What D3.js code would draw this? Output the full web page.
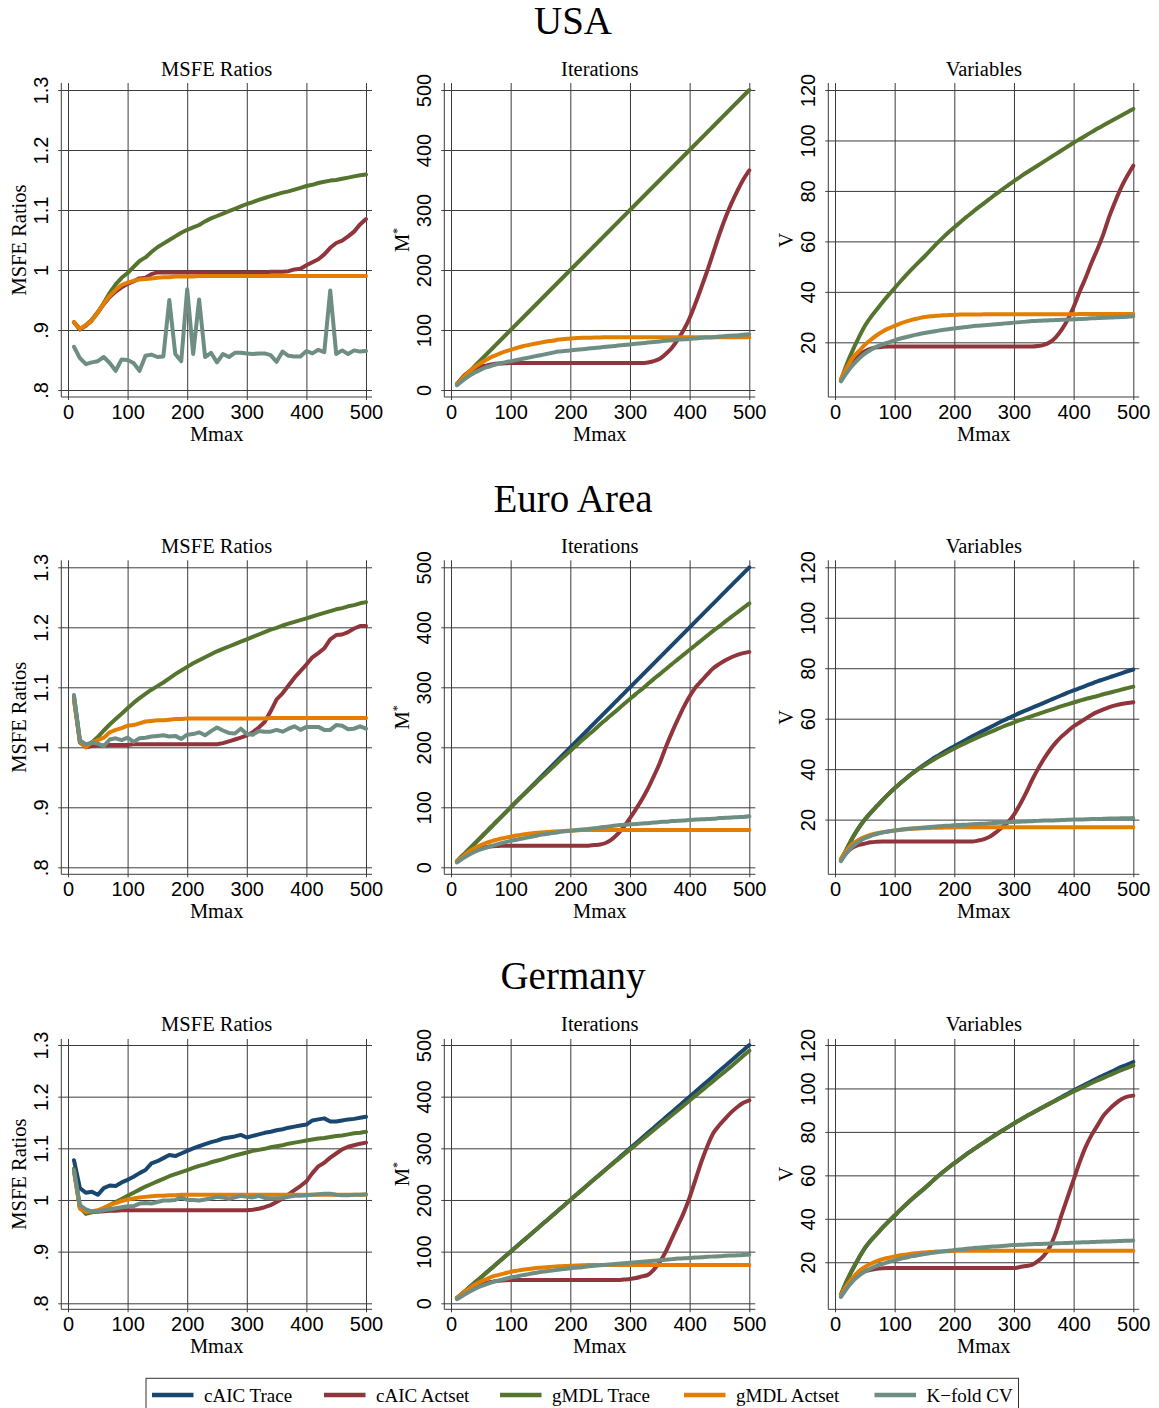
<!DOCTYPE html>
<html><head><meta charset="utf-8">
<script src="https://cdn.jsdelivr.net/npm/d3@7"></script>
<style>body{margin:0;background:#fff}</style>
</head><body><svg id="chart" width="1159" height="1408"></svg>
<script>
// ---------- categories / labels ----------
const mmax = [10,20,30,40,50,60,70,80,90,100,
  110,120,130,140,150,160,170,180,190,200,
  210,220,230,240,250,260,270,280,290,300,
  310,320,330,340,350,360,370,380,390,400,
  410,420,430,440,450,460,470,480,490,500];
const seriesNames = ["cAIC Trace","cAIC Actset","gMDL Trace","gMDL Actset","K\u2212fold CV"];
const countryTitles = ["USA","Euro Area","Germany"];
const panelTitles = ["MSFE Ratios","Iterations","Variables"];
const xTicks = [0,100,200,300,400,500];
const msfeTicks = [0.8,0.9,1,1.1,1.2,1.3];
const msfeTickLabels = [".8",".9","1","1.1","1.2","1.3"];
const iterTicks = [0,100,200,300,400,500];
const varTicks = [20,40,60,80,100,120];

// ---------- USA ----------
const usaMsfeCaicActset = [0.913,0.901,0.907,0.916,0.929,0.943,0.955,0.964,0.971,0.977,
  0.981,0.986,0.987,0.993,0.996,0.996,0.996,0.996,0.996,0.996,
  0.996,0.996,0.996,0.996,0.996,0.996,0.996,0.996,0.996,0.996,
  0.996,0.996,0.996,0.997,0.997,0.997,0.998,1.001,1.002,1.008,
  1.013,1.018,1.026,1.037,1.045,1.049,1.056,1.064,1.076,1.085];
const usaMsfeGmdlTrace = [0.913,0.901,0.908,0.917,0.930,0.945,0.962,0.976,0.987,0.995,
  1.005,1.015,1.021,1.030,1.038,1.044,1.050,1.056,1.062,1.067,
  1.071,1.075,1.081,1.086,1.090,1.094,1.098,1.102,1.106,1.110,
  1.113,1.117,1.120,1.123,1.126,1.129,1.131,1.134,1.137,1.140,
  1.142,1.145,1.147,1.149,1.150,1.152,1.154,1.156,1.158,1.159];
const usaMsfeGmdlActset = [0.913,0.902,0.908,0.916,0.929,0.944,0.957,0.967,0.975,0.979,
  0.982,0.984,0.985,0.986,0.987,0.988,0.988,0.989,0.989,0.989,
  0.989,0.990,0.990,0.990,0.990,0.990,0.990,0.990,0.990,0.990,
  0.990,0.990,0.990,0.990,0.990,0.990,0.990,0.990,0.990,0.990,
  0.990,0.990,0.990,0.990,0.990,0.990,0.990,0.990,0.990,0.990];
const usaMsfeKfold = [0.872,0.853,0.843,0.846,0.848,0.855,0.845,0.832,0.851,0.850,
  0.845,0.832,0.857,0.859,0.855,0.856,0.950,0.860,0.848,0.968,
  0.860,0.951,0.855,0.862,0.846,0.860,0.855,0.862,0.862,0.861,
  0.860,0.861,0.861,0.858,0.847,0.864,0.857,0.856,0.856,0.865,
  0.861,0.867,0.863,0.966,0.860,0.866,0.860,0.866,0.864,0.865];

const usaIterCaicActset = [10,22,30,35,39,41,43,44,44.5,45,
  45,45,45,45,45,45,45,45,45,45,
  45,45,45,45,45,45,45,45,45,45,
  45,45,46,48,52,60,70,84,100,120,
  145,172,200,230,260,287,311,332,351,366];
const usaIterGmdlTrace = [10,20,30,40,50,60,70,80,90,100,
  110,120,130,140,150,160,170,180,190,200,
  210,220,230,240,250,260,270,280,290,300,
  310,320,330,340,350,360,370,380,390,400,
  410,420,430,440,450,460,470,480,490,500];
const usaIterGmdlActset = [10,20,30,38,45,51,56,60,64,67,
  70,73,75,77,79,81,82,84,85,86,
  86.5,87,87,87.5,87.5,88,88,88,88,88,
  88,88,88,88,88,88,88,88,88,88,
  88,88,88,88,88,88,88,88,88,88];
const usaIterKfold = [8,16,23,29,34,38,41,44,46,48,
  50,52,54,56,58,60,62,64,65,66,
  67,68,69,70,71,72,73,74,75,76,
  77,78,79,80,81,82,83,84,84.5,85,
  86,87,87.5,88,89,90,90.5,91,92,93];

const usaVarCaicActset = [5,9,12.5,15,16.5,17.5,18,18.2,18.3,18.3,
  18.3,18.3,18.3,18.3,18.3,18.3,18.3,18.3,18.3,18.3,
  18.3,18.3,18.3,18.3,18.3,18.3,18.3,18.3,18.3,18.3,
  18.3,18.3,18.3,18.5,19,20,22,25,29,34,
  40,45.5,51.5,57,63,70,76,81.5,86,90];
const usaVarGmdlTrace = [5,11.5,17,22,26.5,30,33,36,38.8,41.5,
  44.2,46.8,49.3,51.7,54,56.5,59,61.3,63.5,65.6,
  67.6,69.6,71.5,73.4,75.2,77,78.8,80.5,82.2,83.9,
  85.5,87.1,88.6,90.1,91.6,93.1,94.6,96.1,97.6,99.1,
  100.5,101.9,103.3,104.7,106,107.3,108.6,109.9,111.2,112.5];
const usaVarGmdlActset = [5.5,10,14,16.5,19,21,22.8,24.3,25.5,26.5,
  27.5,28.3,29,29.5,30,30.3,30.5,30.7,30.8,30.9,
  31,31,31,31,31.1,31.1,31.1,31.1,31.1,31.1,
  31.1,31.1,31.1,31.1,31.1,31.1,31.1,31.1,31.1,31.1,
  31.2,31.2,31.2,31.2,31.2,31.2,31.2,31.2,31.2,31.2];
const usaVarKfold = [4.5,8,11,13.5,15.5,17,18.3,19.2,20,20.8,
  21.5,22.1,22.7,23.2,23.7,24.1,24.5,24.9,25.2,25.5,
  25.8,26.1,26.4,26.6,26.8,27,27.2,27.4,27.6,27.8,
  28,28.2,28.4,28.5,28.6,28.7,28.8,28.9,29,29.1,
  29.2,29.3,29.5,29.6,29.7,29.8,29.9,30,30.1,30.3];

// ---------- Euro Area ----------
const euMsfeCaicActset = [1.080,1.008,1.000,1.002,1.003,1.003,1.004,1.004,1.004,1.004,
  1.005,1.005,1.005,1.005,1.005,1.005,1.005,1.005,1.005,1.005,
  1.005,1.005,1.005,1.005,1.005,1.007,1.010,1.013,1.016,1.020,
  1.025,1.033,1.042,1.060,1.080,1.090,1.103,1.116,1.127,1.138,
  1.150,1.157,1.165,1.180,1.187,1.188,1.192,1.198,1.202,1.202];
const euMsfeGmdlTrace = [1.085,1.010,1.002,1.008,1.017,1.028,1.038,1.047,1.056,1.065,
  1.074,1.082,1.089,1.096,1.102,1.108,1.115,1.122,1.128,1.134,
  1.140,1.145,1.150,1.155,1.160,1.164,1.168,1.172,1.176,1.180,
  1.184,1.188,1.192,1.196,1.199,1.203,1.206,1.209,1.212,1.215,
  1.218,1.221,1.224,1.227,1.230,1.232,1.235,1.237,1.240,1.242];
const euMsfeGmdlActset = [1.080,1.010,1.000,1.008,1.012,1.016,1.025,1.029,1.032,1.036,
  1.037,1.040,1.043,1.044,1.045,1.045,1.046,1.047,1.047,1.048,
  1.048,1.048,1.048,1.048,1.048,1.048,1.048,1.048,1.048,1.048,
  1.048,1.048,1.048,1.049,1.049,1.049,1.049,1.049,1.049,1.049,
  1.049,1.049,1.049,1.049,1.049,1.049,1.049,1.049,1.049,1.049];
const euMsfeKfold = [1.087,1.012,1.005,1.008,1.006,1.002,1.013,1.015,1.012,1.016,
  1.009,1.015,1.016,1.018,1.019,1.020,1.018,1.019,1.014,1.021,
  1.022,1.025,1.020,1.027,1.033,1.028,1.024,1.023,1.031,1.022,
  1.021,1.027,1.026,1.026,1.029,1.026,1.031,1.035,1.029,1.034,
  1.034,1.034,1.029,1.029,1.037,1.036,1.030,1.031,1.035,1.031];

const euIterCaicTrace = [10,20,30,40,50,60,70,80,90,100,
  110,120,130,140,150,160,170,180,190,200,
  210,220,230,240,250,260,270,280,290,300,
  310,320,330,340,350,360,370,380,390,400,
  410,420,430,440,450,460,470,480,490,500];
const euIterCaicActset = [10,20,26,30,32,34,35,35.5,36,36,
  36,36,36,36,36,36,36,36,36,36,
  36,36,36,37,38,41,47,56,68,82,
  97,113,131,152,174,200,224,246,267,285,
  300,311,322,332,339,345,350,354,357,359];
const euIterGmdlTrace = [10,20,30,40,50,60,70,80,90,100,
  110,119.5,129,138.5,148,157,166.5,176,185,194,
  203,212,220.5,229,238,246.5,255,263.5,272,280.5,
  289,297,305.5,314,322,330,338.5,346.5,354.5,362.5,
  370.5,378.5,386.5,394.5,402,410,417.5,425,432.5,440];
const euIterGmdlActset = [10,18,26,32,37,41,44,47,49,51,
  53,54.5,56,57,58,59,59.5,60,60.5,61,
  61.5,62,62,62,62,62,62,62,62,62,
  62,62,62,62,62,62,62,62,62,62,
  62,62,62,62,62,62,62,62,62,62];
const euIterKfold = [8,15,21,26,30,33,36,39,41.5,44,
  46,48,50,52,54,55.5,57,58.5,60,61,
  62,63,64,65,66.5,67.5,69,70,71,71.5,
  72,73,73.5,74.5,75.5,76,77,77.5,78,79,
  79.5,80,80.5,81,82,82.5,83,83.5,84,85];

const euVarCaicTrace = [4,8.5,13,16.8,20,22.8,25.3,27.8,30.2,32.4,
  34.5,36.5,38.4,40.2,41.9,43.5,45,46.4,47.8,49.1,
  50.4,51.7,53,54.2,55.4,56.6,57.8,59,60.1,61.2,
  62.3,63.3,64.3,65.3,66.3,67.3,68.3,69.3,70.3,71.2,
  72.1,73,73.9,74.8,75.6,76.4,77.2,78,78.8,79.5];
const euVarCaicActset = [4,7,9,10,10.5,11,11.2,11.3,11.3,11.3,
  11.3,11.3,11.3,11.3,11.3,11.3,11.3,11.3,11.3,11.3,
  11.3,11.3,11.3,11.7,12.3,13.3,15,17,19,22,
  26,30.5,35.5,40,44,47.5,50.5,53,55,57,
  58.5,60,61.5,62.7,63.7,64.6,65.3,65.8,66.2,66.5];
const euVarGmdlTrace = [4,8.5,13,16.8,20,22.8,25.3,27.8,30.2,32.4,
  34.5,36.5,38.4,40,41.5,43,44.4,45.7,47,48.2,
  49.4,50.5,51.6,52.7,53.7,54.7,55.7,56.7,57.6,58.5,
  59.4,60.2,61,61.8,62.6,63.4,64.2,65,65.7,66.4,
  67.1,67.8,68.4,69,69.7,70.3,70.9,71.5,72.1,72.7];
const euVarGmdlActset = [4.5,8,10.5,12,13.2,14,14.6,15,15.4,15.7,
  16,16.2,16.4,16.5,16.6,16.7,16.8,16.8,16.9,16.9,
  17,17,17,17,17,17,17,17,17,17,
  17,17,17,17,17,17,17,17,17,17,
  17,17,17,17,17,17,17,17,17,17];
const euVarKfold = [3.5,7,9.5,11.3,12.6,13.6,14.3,14.9,15.3,15.7,
  16,16.3,16.5,16.7,16.9,17.1,17.3,17.5,17.6,17.8,
  17.9,18,18.2,18.3,18.4,18.6,18.7,18.8,19,19.1,
  19.2,19.3,19.4,19.5,19.6,19.6,19.7,19.8,19.9,20,
  20,20.1,20.2,20.2,20.3,20.4,20.4,20.5,20.5,20.6];

// ---------- Germany ----------
const deMsfeCaicTrace = [1.077,1.023,1.014,1.016,1.010,1.023,1.028,1.027,1.034,1.039,
  1.045,1.052,1.058,1.071,1.075,1.081,1.087,1.085,1.090,1.095,
  1.100,1.104,1.108,1.112,1.115,1.119,1.121,1.123,1.126,1.121,
  1.124,1.127,1.130,1.132,1.135,1.137,1.140,1.142,1.144,1.146,
  1.154,1.156,1.158,1.152,1.152,1.154,1.156,1.157,1.159,1.161];
const deMsfeCaicActset = [1.060,0.985,0.978,0.977,0.977,0.978,0.979,0.979,0.980,0.980,
  0.980,0.980,0.980,0.980,0.980,0.980,0.980,0.980,0.980,0.980,
  0.980,0.980,0.980,0.980,0.980,0.980,0.980,0.980,0.980,0.980,
  0.981,0.983,0.986,0.990,0.996,1.003,1.011,1.019,1.027,1.036,
  1.052,1.065,1.072,1.082,1.090,1.098,1.103,1.106,1.109,1.111];
const deMsfeGmdlTrace = [1.060,0.985,0.973,0.976,0.979,0.984,0.990,0.996,1.002,1.008,
  1.014,1.020,1.026,1.031,1.036,1.041,1.046,1.050,1.054,1.058,
  1.062,1.066,1.069,1.073,1.076,1.079,1.083,1.086,1.089,1.092,
  1.095,1.097,1.099,1.102,1.104,1.106,1.109,1.111,1.113,1.115,
  1.117,1.119,1.120,1.122,1.124,1.125,1.127,1.129,1.130,1.132];
const deMsfeGmdlActset = [1.055,0.983,0.977,0.978,0.980,0.985,0.990,0.994,0.998,1.001,
  1.003,1.005,1.006,1.007,1.008,1.008,1.009,1.009,1.010,1.010,
  1.010,1.010,1.010,1.010,1.010,1.010,1.010,1.010,1.010,1.010,
  1.010,1.010,1.010,1.010,1.010,1.010,1.010,1.010,1.010,1.010,
  1.010,1.010,1.010,1.010,1.010,1.010,1.010,1.010,1.010,1.010];
const deMsfeKfold = [1.058,0.990,0.982,0.978,0.978,0.980,0.982,0.984,0.986,0.988,
  0.988,0.993,0.994,0.993,0.996,0.999,0.999,1.000,1.005,1.000,
  1.000,0.999,1.001,1.003,1.006,1.005,1.002,1.005,1.008,1.006,
  1.005,1.008,1.004,1.003,1.003,1.004,1.006,1.008,1.008,1.009,
  1.010,1.011,1.012,1.012,1.010,1.009,1.009,1.010,1.010,1.011];

const deIterCaicTrace = [10,20,30,40,50,60,70,80,90,100,
  110,120,130,140,150,160,170,180,190,200,
  210,220,230,240,250,260,270,280,290,300,
  310,320,330,340,350,360,370,380,390,400,
  410,420,430,440,450,460,470,480,490,500];
const deIterCaicActset = [10,20,27,33,37,40,42,43.5,44.5,45,
  45,45,45,45,45,45,45,45,45,45,
  45,45,45,45,45,45,45,45,46,47,
  49,52,55,65,80,100,125,150,175,205,
  240,275,305,330,345,358,370,380,388,393];
const deIterGmdlTrace = [10,20,30,40,50,60,70,80,90,100,
  110,120,130,140,150,160,170,180,190,200,
  210,220,230,240,250,259.5,269,278.5,288,297.5,
  307,316.5,326,335.5,345,354.5,364,373.5,383,392.5,
  402,411.5,421,430.5,440,449.5,459,469,479,489];
const deIterGmdlActset = [10,20,28,36,42,47,52,55,58,61,
  63,65,66.5,68,69,70,71,71.5,72,72.5,
  73,73.5,74,74,74,74,74,74,74,74,
  74,74,74,74,74,74,74,74,74,74,
  74,74,74,74,74,74,74,74,74,74];
const deIterKfold = [8,15,22,28,33,37,41,44,47,50,
  52,54.5,56.5,58.5,60.5,62,63.5,65,66.5,68,
  69,70,71.5,72.5,73.5,74.5,75.5,76.5,77.5,78.5,
  79.5,80.5,81.5,82.5,83.5,84.5,85.5,86.5,87,87.5,
  88.5,89,90,90.5,91,92,92.5,93,93.5,94];

const deVarCaicTrace = [5,11.5,17,22,26.5,30,33,36,38.8,41.5,
  44.2,46.8,49.3,51.7,54,56.5,59,61.3,63.5,65.6,
  67.6,69.6,71.5,73.4,75.2,77,78.8,80.5,82.2,83.9,
  85.5,87.1,88.6,90.1,91.6,93.1,94.6,96.1,97.6,99.1,
  100.5,101.9,103.3,104.7,106,107.3,108.6,109.9,111,112.2];
const deVarCaicActset = [5,9,12.5,14.5,15.8,16.5,17,17.2,17.3,17.3,
  17.3,17.3,17.3,17.3,17.3,17.3,17.3,17.3,17.3,17.3,
  17.3,17.3,17.3,17.3,17.3,17.3,17.3,17.3,17.3,17.3,
  17.8,18.3,18.8,20.5,23,27,33.5,42,50,58,
  66,73,78.5,83,87.5,90.5,93,95,96.2,96.7];
const deVarGmdlTrace = [5,11.5,17,22,26.5,30,33,36,38.8,41.5,
  44.2,46.8,49.3,51.7,54,56.5,59,61.3,63.5,65.6,
  67.6,69.6,71.5,73.4,75.2,77,78.8,80.5,82.2,83.9,
  85.5,87.1,88.6,90.1,91.6,93,94.4,95.8,97.2,98.6,
  99.9,101.2,102.5,103.7,104.9,106.1,107.3,108.4,109.5,110.6];
const deVarGmdlActset = [5,9.5,13,15.8,17.8,19.3,20.5,21.4,22.1,22.7,
  23.2,23.6,24,24.3,24.5,24.7,24.9,25,25.1,25.2,
  25.3,25.3,25.3,25.3,25.3,25.3,25.3,25.3,25.3,25.3,
  25.3,25.3,25.3,25.3,25.3,25.3,25.3,25.3,25.3,25.3,
  25.3,25.3,25.3,25.3,25.3,25.3,25.3,25.3,25.3,25.3];
const deVarKfold = [4,8,11.3,13.8,15.7,17.1,18.3,19.3,20.1,20.9,
  21.6,22.2,22.8,23.3,23.8,24.2,24.6,25,25.3,25.6,
  25.9,26.2,26.5,26.7,26.9,27.1,27.3,27.5,27.7,27.9,
  28,28.2,28.3,28.4,28.5,28.6,28.7,28.8,28.9,29,
  29.1,29.2,29.3,29.4,29.5,29.6,29.7,29.8,29.9,30];

// ---------- assembly (series order: cAIC Trace, cAIC Actset, gMDL Trace, gMDL Actset, K-fold CV) ----------
const panels = [
  [[null, usaMsfeCaicActset, usaMsfeGmdlTrace, usaMsfeGmdlActset, usaMsfeKfold],
   [null, usaIterCaicActset, usaIterGmdlTrace, usaIterGmdlActset, usaIterKfold],
   [null, usaVarCaicActset, usaVarGmdlTrace, usaVarGmdlActset, usaVarKfold]],
  [[null, euMsfeCaicActset, euMsfeGmdlTrace, euMsfeGmdlActset, euMsfeKfold],
   [euIterCaicTrace, euIterCaicActset, euIterGmdlTrace, euIterGmdlActset, euIterKfold],
   [euVarCaicTrace, euVarCaicActset, euVarGmdlTrace, euVarGmdlActset, euVarKfold]],
  [[deMsfeCaicTrace, deMsfeCaicActset, deMsfeGmdlTrace, deMsfeGmdlActset, deMsfeKfold],
   [deIterCaicTrace, deIterCaicActset, deIterGmdlTrace, deIterGmdlActset, deIterKfold],
   [deVarCaicTrace, deVarCaicActset, deVarGmdlTrace, deVarGmdlActset, deVarKfold]]
];
const colors = ["#1a476f","#90353b","#55752f","#e37e00","#6e8e84"];

// ---------- layout ----------
const svg = d3.select("#chart");
svg.append("rect").attr("width",1159).attr("height",1408).attr("fill","#fff");
const serif = "'Liberation Serif','Times New Roman',serif";
const sans = "'Liberation Sans',Arial,Helvetica,sans-serif";
const gridColor = "#3c3c3c";
const colX0 = [68, 451, 835], colX500 = [366, 749.3, 1133.3];
const rowTop = [90, 567.3, 1045], rowBot = [390, 867.3, 1303.3];
const countryBase = [34.3, 511.6, 989];
const yDomains = [[0.8,1.3],[0,500],[1.1,120]];
const yTickSets = [msfeTicks, iterTicks, varTicks];
const yTickFmt = [(d)=>msfeTickLabels[msfeTicks.indexOf(d)], d=>String(d), d=>String(d)];

for (let ri = 0; ri < 3; ri++) {
  svg.append("text").attr("x", 573).attr("y", countryBase[ri])
    .attr("text-anchor","middle").style("font-family", serif).style("font-size","39px")
    .text(countryTitles[ri]);
  for (let ci = 0; ci < 3; ci++) {
    const x = d3.scaleLinear().domain([0,500]).range([colX0[ci], colX500[ci]]);
    const y = d3.scaleLinear().domain(yDomains[ci]).range([rowBot[ri], rowTop[ri]]);
    const s = (rowBot[ri] - rowTop[ri]) / 300;
    const L = colX0[ci] - 6.7, R = colX500[ci] + 6, T = rowTop[ri] - 7*s, B = rowBot[ri] + 7*s;
    const g = svg.append("g");

    // horizontal grid + y ticks
    const ya = g.append("g").attr("transform", `translate(${R},0)`)
      .call(d3.axisLeft(y).tickValues(yTickSets[ci]).tickSize(R - L + 3).tickFormat(yTickFmt[ci]));
    ya.select(".domain").remove();
    ya.selectAll("line").attr("stroke", gridColor).attr("stroke-width", 1);
    ya.selectAll("text")
      .attr("x", null).attr("dy", null)
      .attr("transform", `translate(${-(R - L + 13)},0) rotate(-90)`)
      .attr("text-anchor","middle").attr("fill","#000")
      .style("font-family", sans).style("font-size","20px");

    // vertical grid + x ticks
    const xa = g.append("g").attr("transform", `translate(0,${T})`)
      .call(d3.axisBottom(x).tickValues(xTicks).tickSize(B - T + 3));
    xa.select(".domain").remove();
    xa.selectAll("line").attr("stroke", gridColor).attr("stroke-width", 1);
    xa.selectAll("text").attr("y", B + 21.5 - T).attr("dy", null).attr("fill","#000")
      .style("font-family", sans).style("font-size","20px");

    // axis lines
    g.append("line").attr("x1",L).attr("x2",L).attr("y1",T).attr("y2",B).attr("stroke",gridColor);
    g.append("line").attr("x1",L).attr("x2",R).attr("y1",B).attr("y2",B).attr("stroke",gridColor);

    // titles
    const cx = (L + R) / 2, cy = (T + B) / 2;
    g.append("text").attr("x", cx).attr("y", rowTop[ri] - 14).attr("text-anchor","middle")
      .style("font-family", serif).style("font-size","20.5px").text(panelTitles[ci]);
    g.append("text").attr("x", cx).attr("y", B + 43.5).attr("text-anchor","middle")
      .style("font-family", serif).style("font-size","20.5px").text("Mmax");
    const yt = g.append("text").attr("transform", `translate(${L - 35},${cy}) rotate(-90)`)
      .attr("text-anchor","middle").style("font-family", serif).style("font-size","20.5px");
    if (ci === 0) yt.text("MSFE Ratios");
    else if (ci === 1) { yt.append("tspan").text("M"); yt.append("tspan").attr("dy",-8).style("font-size","12px").text("*"); }
    else yt.text("V");

    // series
    const line = d3.line().x((d,i) => x(mmax[i])).y(d => y(d))
      .curve(ci === 0 ? d3.curveLinear : d3.curveMonotoneX);
    panels[ri][ci].forEach((arr, si) => {
      if (!arr) return;
      g.append("path").datum(arr).attr("d", line).attr("fill","none")
        .attr("stroke", colors[si]).attr("stroke-width", 4)
        .attr("stroke-linejoin","round").attr("stroke-linecap","round");
    });
  }
}

// ---------- legend ----------
const legX = [152, 324, 500, 684, 874.5];
const lg = svg.append("g");
lg.append("rect").attr("x",146).attr("y",1378.3).attr("width",872.5).attr("height",45)
  .attr("fill","#fff").attr("stroke","#333").attr("stroke-width",1);
seriesNames.forEach((nm, i) => {
  lg.append("line").attr("x1", legX[i]).attr("x2", legX[i] + 41.5)
    .attr("y1", 1395).attr("y2", 1395).attr("stroke", colors[i]).attr("stroke-width", 4.5);
  lg.append("text").attr("x", legX[i] + 52).attr("y", 1401.5)
    .style("font-family", serif).style("font-size","19px").text(nm);
});
</script>
</body></html>
